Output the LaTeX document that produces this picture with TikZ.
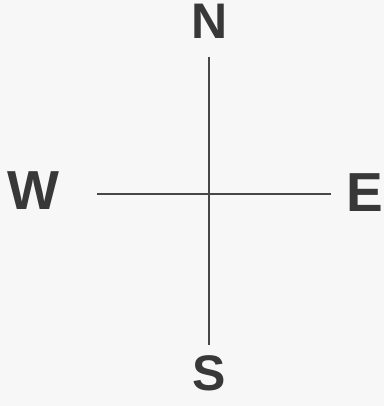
\documentclass[tikz,border=0pt]{standalone}
\usepackage{fontspec}
\setmainfont{Liberation Sans}
\begin{document}
\begin{tikzpicture}[x=1pt,y=-1pt,
  dirlabel/.style={inner sep=0pt,text depth=0pt,text=black!78,font=\fontsize{50}{50}\bfseries},
  sidelabel/.style={dirlabel,font=\fontsize{55}{55}\bfseries},
  axis/.style={draw=black!72,line width=1.8pt}]
\fill[black!3] (0,0) rectangle (384,406);
\useasboundingbox (0,0) rectangle (384,406);
\node[dirlabel] (N) at (210,21) {N};
\node[dirlabel] (S) at (209,373) {S};
\node[sidelabel] (W) at (33,191) {W};
\node[sidelabel] (E) at (365,193) {E};
\coordinate (nt) at (209,57);
\coordinate (sb) at (209,345);
\coordinate (wl) at (97,194);
\coordinate (er) at (331,194);
\draw[axis] (nt) -- (sb);
\draw[axis] (wl) -- (er);
\end{tikzpicture}
\end{document}
